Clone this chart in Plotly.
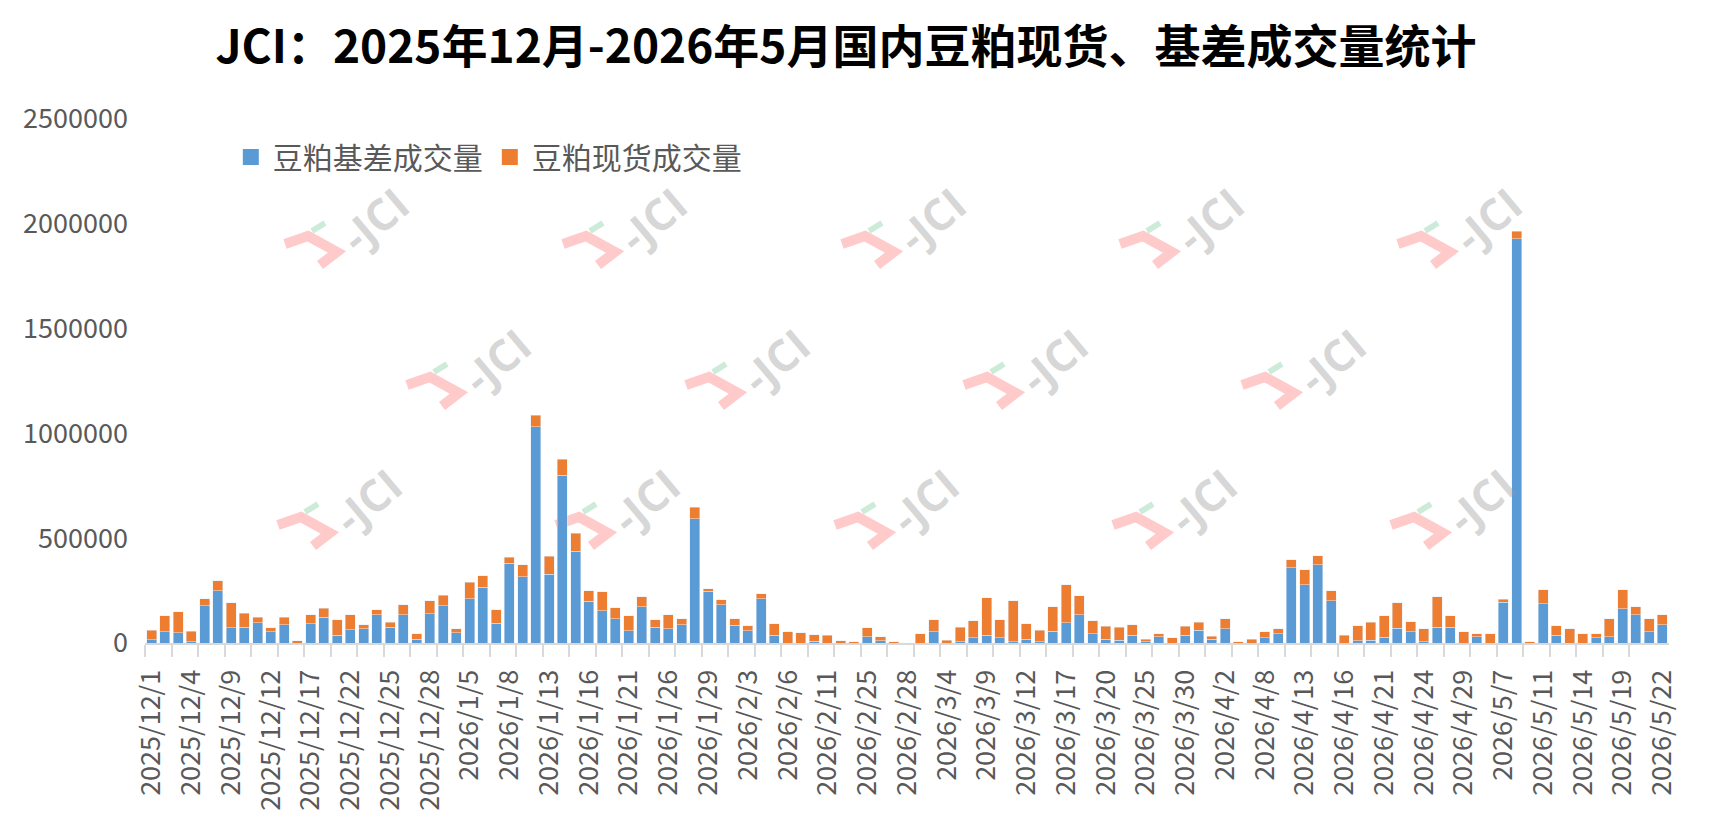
import plotly.graph_objects as go

# trading days shown on the category axis
dates = [
    "2025/12/1", "2025/12/2", "2025/12/3", "2025/12/4", "2025/12/5", "2025/12/8", "2025/12/9",
    "2025/12/10", "2025/12/11", "2025/12/12", "2025/12/15", "2025/12/16", "2025/12/17",
    "2025/12/18", "2025/12/19", "2025/12/22", "2025/12/23", "2025/12/24", "2025/12/25",
    "2025/12/26", "2025/12/27", "2025/12/28", "2025/12/29", "2025/12/30",
    "2026/1/5", "2026/1/6", "2026/1/7", "2026/1/8", "2026/1/9", "2026/1/12", "2026/1/13",
    "2026/1/14", "2026/1/15", "2026/1/16", "2026/1/19", "2026/1/20", "2026/1/21",
    "2026/1/22", "2026/1/23", "2026/1/26", "2026/1/27", "2026/1/28", "2026/1/29",
    "2026/1/30", "2026/2/2", "2026/2/3", "2026/2/4", "2026/2/5", "2026/2/6",
    "2026/2/9", "2026/2/10", "2026/2/11", "2026/2/12", "2026/2/13", "2026/2/25",
    "2026/2/26", "2026/2/27", "2026/2/28", "2026/3/2", "2026/3/3", "2026/3/4",
    "2026/3/5", "2026/3/6", "2026/3/9", "2026/3/10", "2026/3/11", "2026/3/12",
    "2026/3/13", "2026/3/16", "2026/3/17", "2026/3/18", "2026/3/19", "2026/3/20",
    "2026/3/23", "2026/3/24", "2026/3/25", "2026/3/26", "2026/3/27", "2026/3/30",
    "2026/3/31", "2026/4/1", "2026/4/2", "2026/4/3", "2026/4/7", "2026/4/8",
    "2026/4/9", "2026/4/10", "2026/4/13", "2026/4/14", "2026/4/15", "2026/4/16",
    "2026/4/17", "2026/4/20", "2026/4/21", "2026/4/22", "2026/4/23", "2026/4/24",
    "2026/4/27", "2026/4/28", "2026/4/29", "2026/4/30", "2026/5/6", "2026/5/7",
    "2026/5/8", "2026/5/9", "2026/5/11", "2026/5/12", "2026/5/13", "2026/5/14",
    "2026/5/15", "2026/5/18", "2026/5/19", "2026/5/20", "2026/5/21", "2026/5/22",
]

# 豆粕基差成交量
basis = [
    16000, 54000, 48000, 6000, 178000, 249000, 73000, 76000, 96000, 54000,
    86000, 0, 92000, 124000, 38000, 64000, 67000, 134000, 76000, 134000,
    19000, 140000, 178000, 48000, 212000, 266000, 94000, 381000, 317000, 1031000,
    327000, 801000, 438000, 199000, 155000, 116000, 59000, 174000, 75000, 68000,
    88000, 594000, 247000, 183000, 84000, 59000, 212000, 36000, 0, 0,
    8000, 0, 0, 0, 29000, 10000, 0, 0, 0, 53000,
    0, 5000, 24000, 38000, 24000, 5000, 19000, 5000, 57000, 96000,
    134000, 43000, 19000, 14000, 38000, 5000, 29000, 0, 38000, 62000,
    19000, 67000, 0, 0, 24000, 43000, 359000, 277000, 373000, 201000,
    0, 10000, 14000, 28000, 70000, 54000, 5000, 75000, 75000, 0,
    30000, 0, 195000, 1928000, 0, 187000, 38000, 0, 0, 26000,
    30000, 163000, 135000, 54000, 87000,
]

# 豆粕现货成交量
spot = [
    46000, 75000, 100000, 51000, 34000, 47000, 118000, 67000, 28000, 18000,
    38000, 10000, 42000, 43000, 72000, 70000, 19000, 24000, 24000, 48000,
    24000, 61000, 51000, 19000, 78000, 56000, 65000, 27000, 57000, 56000,
    86000, 76000, 85000, 51000, 90000, 53000, 72000, 47000, 36000, 67000,
    28000, 53000, 13000, 24000, 32000, 24000, 24000, 56000, 54000, 49000,
    32000, 38000, 10000, 5000, 43000, 19000, 5000, 0, 43000, 57000,
    14000, 71000, 81000, 177000, 86000, 196000, 72000, 57000, 115000, 181000,
    91000, 62000, 62000, 62000, 48000, 14000, 14000, 24000, 43000, 38000,
    14000, 48000, 5000, 19000, 29000, 24000, 38000, 72000, 43000, 48000,
    38000, 72000, 84000, 102000, 123000, 48000, 63000, 146000, 55000, 54000,
    14000, 44000, 14000, 37000, 6000, 68000, 44000, 68000, 44000, 18000,
    85000, 92000, 38000, 61000, 48000,
]

FONT = "Noto Sans CJK SC"
GREY_TXT = "#595959"
BLUE, ORANGE = "#5B9BD5", "#ED7D31"

# the page body keeps an 8px margin, so the figure is made that much smaller
OFF = 8
W, H = 1728 - OFF, 839 - OFF
ML, MR, MT, MB = 145 - OFF, 59, 119 - OFF, 196

idx = list(range(len(dates)))

fig = go.Figure()
fig.add_trace(go.Bar(x=idx, y=basis, name="豆粕基差成交量", showlegend=False,
                     marker_color=BLUE, customdata=dates,
                     hovertemplate="%{customdata}<br>%{y}<extra>豆粕基差成交量</extra>"))
fig.add_trace(go.Bar(x=idx, y=spot, name="豆粕现货成交量", showlegend=False,
                     marker_color=ORANGE, customdata=dates,
                     hovertemplate="%{customdata}<br>%{y}<extra>豆粕现货成交量</extra>"))
# legend entries with bigger square swatches
for name, col in (("豆粕基差成交量", BLUE), ("豆粕现货成交量", ORANGE)):
    fig.add_trace(go.Scatter(x=[None], y=[None], mode="markers", name=name,
                             marker=dict(symbol="square", size=19, color=col)))


def to_paper(px, py):
    """page pixel position -> paper coordinates"""
    px, py = px - OFF, py - OFF
    pw = W - ML - MR
    ph = H - MT - MB
    return (px - ML) / pw, (H - MB - py) / ph


# JCI watermark (page pixel anchors of the pink hook)
marks = [(311, 251), (589, 251), (868, 251), (1146, 251), (1424, 251),
         (433, 392), (712, 392), (990, 392), (1268, 392),
         (304, 532), (582, 532), (861, 532), (1139, 532), (1417, 532)]
hook = [(-26, -7), (-3, -15), (26, 1), (9, 14)]
shapes = []
annotations = []
for cx, cy in marks:
    pts = [to_paper(cx + dx, cy + dy) for dx, dy in hook]
    path = "M " + " L ".join("{:.5f},{:.5f}".format(a, b) for a, b in pts)
    shapes.append(dict(type="path", path=path, xref="paper", yref="paper",
                       line=dict(color="#ffcaca", width=10), layer="below"))
    g1 = to_paper(cx + 1, cy - 20)
    g2 = to_paper(cx + 14, cy - 28)
    shapes.append(dict(type="line", x0=g1[0], y0=g1[1], x1=g2[0], y1=g2[1],
                       xref="paper", yref="paper",
                       line=dict(color="#cdebd9", width=6), layer="below"))
    tx, ty = to_paper(cx + 63, cy - 31)
    annotations.append(dict(text="-JCI", x=tx, y=ty, xref="paper", yref="paper",
                            xanchor="center", yanchor="middle",
                            showarrow=False, textangle=-40,
                            font=dict(family="Open Sans", size=44, weight="bold",
                                      color="rgba(150,150,150,0.38)")))

fig.update_layout(
    width=W, height=H,
    margin=dict(l=ML, r=MR, t=MT, b=MB, pad=0),
    barmode="stack", bargap=0.245,
    plot_bgcolor="white", paper_bgcolor="white",
    font=dict(family=FONT, color=GREY_TXT),
    title=dict(text="JCI：2025年12月-2026年5月国内豆粕现货、基差成交量统计",
               x=(846 - OFF) / W, xref="container", xanchor="center",
               y=1 - (47 - OFF) / H, yref="container", yanchor="middle",
               font=dict(family=FONT, size=46, color="black", weight="bold")),
    legend=dict(orientation="h", x=0.055, xanchor="left",
                y=to_paper(0, 157)[1], yanchor="middle",
                font=dict(family=FONT, size=30, color=GREY_TXT),
                itemwidth=34, traceorder="normal", bgcolor="rgba(0,0,0,0)"),
    shapes=shapes,
    annotations=annotations,
)

fig.update_xaxes(
    range=[-0.5, len(dates) - 0.5],
    tickmode="array", tickvals=idx[::3], ticktext=dates[::3],
    tickangle=-90, ticks="", ticklabelstandoff=14,
    tickfont=dict(family=FONT, size=27, color=GREY_TXT),
    showline=True, linecolor="#d9d9d9", linewidth=2,
    showgrid=False, zeroline=False,
    minor=dict(tickmode="array", tickvals=[i - 0.5 for i in idx[:-1:2]],
               ticks="outside", ticklen=12, tickwidth=2, tickcolor="#d9d9d9",
               showgrid=False),
)
fig.update_yaxes(
    range=[0, 2500000], tickmode="linear", tick0=0, dtick=500000,
    tickformat="d", ticks="", ticklabelstandoff=16,
    tickfont=dict(family=FONT, size=27, color=GREY_TXT),
    showgrid=False, zeroline=False, showline=False,
)

fig.write_html("out.html")
